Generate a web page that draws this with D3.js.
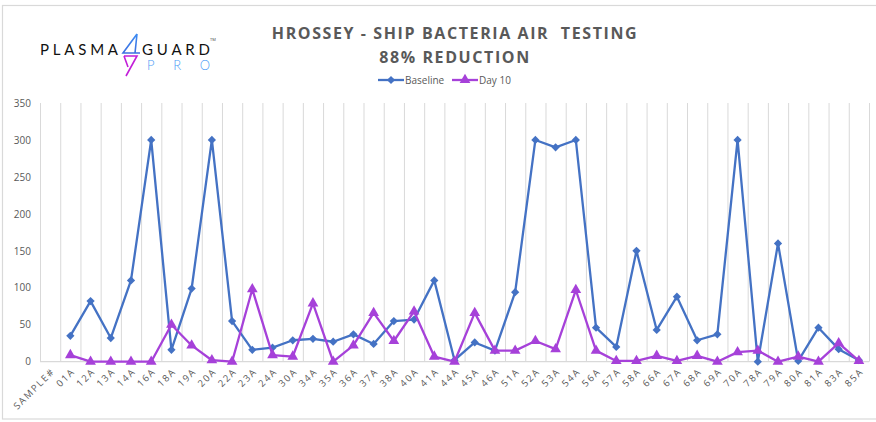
<!DOCTYPE html>
<html>
<head>
<meta charset="utf-8">
<script src="https://cdn.jsdelivr.net/npm/d3@7"></script>
<style>
  body { margin: 0; background: #fff; }
  text { font-family: "Open Sans", "Noto Sans", sans-serif; }
</style>
</head>
<body>
<div id="chart"></div>
<script>
const categories = ['SAMPLE#', '01A', '12A', '13A', '14A', '16A', '18A', '19A', '20A', '22A', '23A',
  '24A', '30A', '34A', '35A', '36A', '37A', '38A', '40A', '41A', '44A', '45A', '46A', '51A', '52A',
  '53A', '54A', '56A', '57A', '58A', '66A', '67A', '68A', '69A', '70A', '78A', '79A', '80A', '81A',
  '83A', '85A'];

// null = no reading for that column
const baseline = [null, 35, 82, 32, 110, 300, 16, 99, 300, 55, 16,
  19, 29, 31, 27, 37, 24, 55, 57, 110, 2, 26, 15, 94, 300,
  290, 300, 46, 20, 150, 43, 88, 29, 37, 300, 0, 160, 1, 46,
  17, 2];

const day10 = [null, 9, 0, 0, 0, 0, 50, 22, 2, 0, 98,
  9, 7, 79, 0, 22, 66, 28, 68, 7, 0, 66, 15, 15, 28,
  17, 97, 15, 1, 1, 8, 1, 8, 0, 13, 15, 0, 7, 0,
  25, 1];

const yTicks = [0, 50, 100, 150, 200, 250, 300, 350];

const W = 876, H = 422;
const margin = { top: 103, right: 7, bottom: 60, left: 40 };
const plotBottom = 361.7;

const svg = d3.select('#chart').append('svg')
  .attr('width', W)
  .attr('height', H);

// outer frame
svg.append('rect')
  .attr('x', 2.5).attr('y', 5.5)
  .attr('width', W + 10).attr('height', 413.5)
  .attr('fill', 'none').attr('stroke', '#D9D9D9').attr('stroke-width', 1.2);

const x = d3.scaleBand()
  .domain(categories)
  .range([margin.left, W - margin.right])
  .padding(0);

const xEdge = d3.scaleLinear()
  .domain([0, categories.length])
  .range([margin.left, W - margin.right]);

const y = d3.scaleLinear()
  .domain([0, 350])
  .range([plotBottom, margin.top]);

// vertical gridlines at category edges
svg.append('g')
  .attr('transform', `translate(0,${plotBottom})`)
  .call(d3.axisBottom(xEdge).tickValues(d3.range(0, categories.length + 1))
    .tickSize(-(plotBottom - margin.top)).tickFormat(''))
  .call(g => g.select('.domain').remove())
  .call(g => g.selectAll('line').attr('stroke', '#D9D9D9').attr('stroke-width', 1));

// x axis line
svg.append('line')
  .attr('x1', margin.left).attr('x2', W - margin.right)
  .attr('y1', plotBottom).attr('y2', plotBottom)
  .attr('stroke', '#D9D9D9').attr('stroke-width', 1.3);

// y labels
svg.append('g')
  .attr('transform', `translate(31,0)`)
  .call(d3.axisLeft(y).tickValues(yTicks).tickSize(0).tickPadding(0))
  .call(g => g.select('.domain').remove())
  .call(g => g.selectAll('text')
    .attr('fill', '#595959')
    .style('font-size', '10px')
    .style('font-family', '"Open Sans", sans-serif'));

// x labels
svg.append('g')
  .selectAll('text')
  .data(categories)
  .join('text')
    .attr('transform', d => `translate(${x(d) + x.bandwidth() / 2 + 3},${plotBottom + 8}) rotate(-45)`)
    .attr('text-anchor', 'end')
    .attr('dy', '0.35em')
    .attr('fill', '#595959')
    .style('font-size', '9.5px')
    .style('letter-spacing', '1.7px')
    .text(d => d);

const cx = d => x(d) + x.bandwidth() / 2;

// diamond = square turned 45deg (Excel style)
const series = [
  { name: 'Baseline', values: baseline, color: '#4472C4', symbol: d3.symbolSquare, size: 34, rot: 45 },
  { name: 'Day 10', values: day10, color: '#A641D9', symbol: d3.symbolTriangle, size: 50, rot: 0 }
];

series.forEach(s => {
  const pts = categories.map((c, i) => ({ c, v: s.values[i] })).filter(p => p.v !== null);
  const line = d3.line().x(p => cx(p.c)).y(p => y(p.v));
  svg.append('path')
    .datum(pts)
    .attr('fill', 'none')
    .attr('stroke', s.color)
    .attr('stroke-width', 2.3)
    .attr('stroke-linejoin', 'round')
    .attr('d', line);
  svg.append('g')
    .selectAll('path')
    .data(pts)
    .join('path')
      .attr('transform', p => `translate(${cx(p.c)},${y(p.v)}) rotate(${s.rot})`)
      .attr('d', d3.symbol(s.symbol, s.size))
      .attr('fill', s.color);
});

// title
const title = svg.append('text')
  .attr('text-anchor', 'middle')
  .attr('fill', '#595959')
  .style('font-size', '16px')
  .style('font-weight', 'bold')
  .style('letter-spacing', '1.6px')
  .style('white-space', 'pre');
title.append('tspan').attr('x', 455).attr('y', 39).text('HROSSEY - SHIP BACTERIA AIR  TESTING');
title.append('tspan').attr('x', 455).attr('y', 63).text('88% REDUCTION');

// legend
const legend = svg.append('g').attr('transform', 'translate(378,80)');
series.forEach((s, i) => {
  const g = legend.append('g').attr('transform', `translate(${i * 74},0)`);
  g.append('line').attr('x1', 0).attr('x2', 26).attr('stroke', s.color).attr('stroke-width', 2.3);
  g.append('path').attr('transform', `translate(13,0) rotate(${s.rot})`).attr('d', d3.symbol(s.symbol, s.size)).attr('fill', s.color);
  g.append('text').attr('x', 27).attr('dy', '0.35em').attr('fill', '#595959')
    .style('font-size', '10px').text(s.name);
});

// logo
const logo = svg.append('g');
logo.append('text').attr('x', 40).attr('y', 55)
  .attr('fill', '#111').style('font-size', '15px').style('font-weight', 400)
  .style('font-family', 'Lato, sans-serif')
  .attr('textLength', 78).attr('lengthAdjust', 'spacing')
  .text('PLASMA');
logo.append('text').attr('x', 142).attr('y', 55)
  .attr('fill', '#111').style('font-size', '15px').style('font-weight', 400)
  .style('font-family', 'Lato, sans-serif')
  .attr('textLength', 68).attr('lengthAdjust', 'spacing')
  .text('GUARD');
logo.append('text').attr('x', 210).attr('y', 41)
  .attr('fill', '#444').style('font-size', '4px').text('TM');
logo.append('text').attr('x', 147).attr('y', 70)
  .attr('fill', '#4C9BF5').style('font-size', '13px').style('font-weight', 300)
  .style('font-family', 'Lato, sans-serif')
  .attr('textLength', 63).attr('lengthAdjust', 'spacing')
  .text('PRO');
const grad = svg.append('defs').append('linearGradient')
  .attr('id', 'bolt').attr('x1', 0).attr('y1', 0).attr('x2', 0).attr('y2', 1);
grad.append('stop').attr('offset', '0%').attr('stop-color', '#3D8BF2');
grad.append('stop').attr('offset', '100%').attr('stop-color', '#3D6FE0');
logo.append('path')
  .attr('d', 'M137,34 L123,53 L140,53 M137,34 L135,53')
  .attr('fill', 'none').attr('stroke', 'url(#bolt)').attr('stroke-width', 1.6);
logo.append('path')
  .attr('d', 'M124,56 L137,56 L126,76 M124,56 L128,67')
  .attr('fill', 'none').attr('stroke', '#C21FD8').attr('stroke-width', 1.6);
</script>
</body>
</html>
